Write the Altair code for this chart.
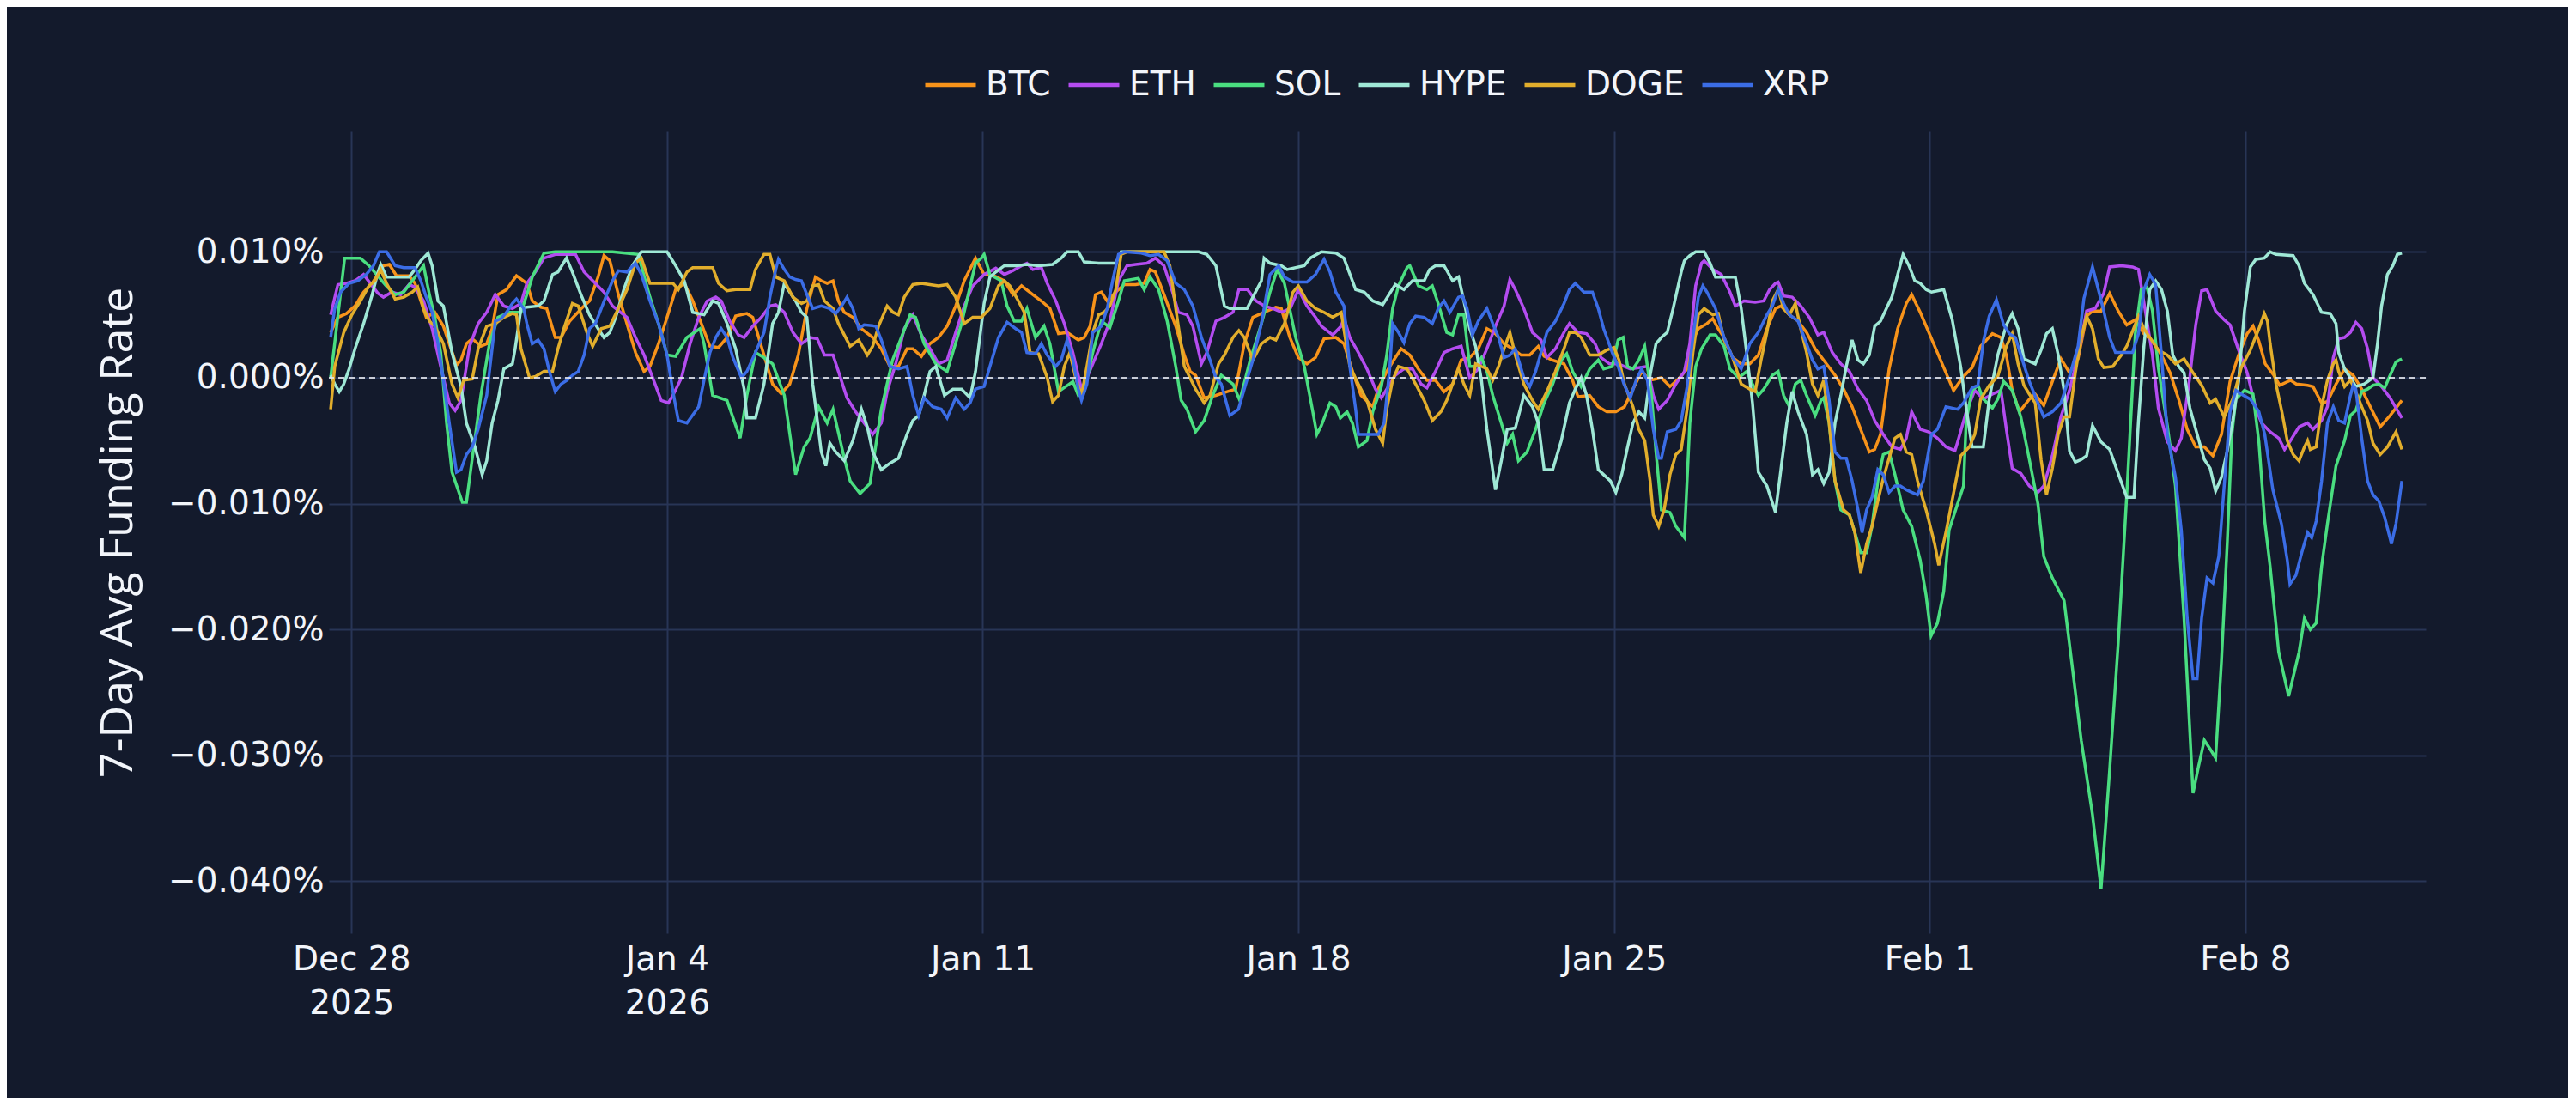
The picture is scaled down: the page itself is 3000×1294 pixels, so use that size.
import altair as alt
import pandas as pd

# ---- data (day offset from 2025-12-28 00:00, value in units of 0.001 %) ----
COINS = ["BTC", "ETH", "SOL", "HYPE", "DOGE", "XRP"]
COLORS = ["#F7931A", "#B44CF0", "#4ADE80", "#9FE8D6", "#E2AE2C", "#3B6DE6"]

BTC_D = [-0.46,-0.3,-0.11,0.08,0.27,0.46,0.71,0.84,1.0,1.28,1.41,1.66,1.85,2.04,2.17,2.33,2.43,2.55,2.68,2.87,3.0,3.12,3.25,3.44,3.66,3.89,4.01,4.2,4.33,4.52,4.65,4.84,5.1,5.28,5.47,5.6,5.73,5.92,6.11,6.3,6.49,6.62,6.81,7.0,7.19,7.38,7.57,7.76,7.95,8.14,8.33,8.52,8.77,8.9,9.09,9.34,9.53,9.72,9.91,10.1,10.29,10.42,10.55,10.68,10.8,10.93,11.12,11.31,11.56,11.75,11.94,12.13,12.32,12.45,12.64,12.83,13.02,13.21,13.4,13.59,13.84,14.03,14.25,14.48,14.67,14.86,15.11,15.3,15.49,15.68,15.87,16.12,16.25,16.38,16.5,16.63,16.76,16.95,17.14,17.39,17.58,17.71,17.83,18.02,18.28,18.47,18.6,18.72,18.91,19.17,19.42,19.61,19.8,19.99,20.24,20.5,20.62,20.81,21.0,21.19,21.38,21.57,21.83,22.01,22.2,22.39,22.65,22.77,22.96,23.15,23.28,23.47,23.66,23.85,24.04,24.23,24.42,24.61,24.8,24.99,25.18,25.37,25.56,25.75,25.94,26.13,26.32,26.45,26.63,26.89,27.08,27.2,27.46,27.65,27.84,28.04,28.23,28.42,28.61,28.8,29.05,29.24,29.43,29.62,29.75,29.87,30.06,30.19,30.31,30.44,30.63,30.82,31.01,31.2,31.39,31.58,31.7,31.89,32.08,32.27,32.46,32.71,32.9,33.09,33.28,33.47,33.66,33.78,33.91,34.1,34.29,34.48,34.6,34.79,34.98,35.17,35.36,35.53,35.75,35.94,36.13,36.39,36.58,36.7,36.83,36.99,37.21,37.34,37.53,37.72,37.91,38.1,38.29,38.48,38.61,38.8,38.99,39.18,39.37,39.56,39.75,39.94,40.14,40.33,40.52,40.71,40.9,41.09,41.28,41.47,41.66,41.85,42.04,42.17,42.3,42.44,42.63,42.76,43.0,43.13,43.38,43.5,43.69,43.82,44.01,44.2,44.39,44.58,44.77,44.99,45.21,45.47]
BTC_V = [3.6,4.8,5.1,5.7,6.8,7.5,8.9,9.0,8.1,8.1,7.5,4.8,5.2,4.1,2.7,1.0,1.4,2.7,3.1,2.5,2.7,3.9,6.6,7.0,8.1,7.5,6.1,5.6,5.5,3.2,3.2,4.5,5.5,6.1,8.0,9.7,9.3,6.6,4.3,2.0,0.5,0.9,2.7,4.8,7.0,7.5,6.1,4.3,2.5,2.4,3.2,4.9,5.1,4.8,2.5,-0.5,-1.25,-0.5,1.8,5.5,8.0,7.7,7.5,7.7,6.1,5.2,4.8,3.9,3.2,2.3,0.9,0.9,2.3,2.3,1.7,2.7,3.2,4.1,5.7,7.7,9.5,8.2,8.1,7.7,6.6,7.3,6.6,6.1,5.5,3.5,3.6,3.0,3.2,4.1,6.6,6.8,6.1,6.8,7.4,7.4,7.5,8.6,8.4,6.6,4.1,1.8,0.5,0.2,-1.6,-1.4,-1.1,-0.9,2.7,4.8,5.2,5.6,5.5,3.2,1.6,1.1,1.6,3.1,3.2,2.7,0.5,-1.4,-2.3,-0.9,0.5,1.6,2.3,1.8,0.7,-0.2,-0.2,-1.1,-0.5,1.4,1.6,2.3,3.9,3.5,2.7,2.3,1.8,1.8,2.5,1.7,1.4,1.1,-0.2,-1.5,-1.4,-2.3,-2.7,-2.7,-2.3,-0.9,0.5,-0.2,0.0,-0.7,-0.1,0.7,3.0,3.9,4.3,4.7,3.9,3.2,1.6,1.1,1.1,1.8,3.9,5.5,5.7,5.0,4.5,3.6,2.3,1.1,0.2,-0.9,-2.3,-4.1,-5.9,-5.7,-4.5,0.7,3.9,5.9,6.6,5.2,3.6,2.0,0.4,-1.0,0.1,0.8,2.5,3.5,3.2,1.8,-1.0,-2.7,-1.7,-1.3,-2.2,-0.3,1.5,0.4,1.5,4.9,5.3,5.3,6.7,5.3,4.2,4.6,3.5,2.9,1.8,0.4,-1.7,-4.1,-5.5,-5.5,-6.2,-4.5,-0.3,1.8,3.5,4.1,2.9,1.1,0.2,-0.6,-0.2,-0.5,-0.6,-0.7,-2.0,-1.9,-0.5,0.7,0.2,-0.9,-2.3,-3.9,-3.0,-1.8]

ETH_D = [-0.46,-0.3,-0.11,0.08,0.27,0.46,0.59,0.71,0.9,1.09,1.28,1.41,1.6,1.79,1.98,2.17,2.3,2.43,2.62,2.81,3.0,3.19,3.38,3.57,3.76,3.89,4.08,4.27,4.52,4.97,5.16,5.41,5.6,5.79,6.11,6.3,6.49,6.68,6.87,7.03,7.13,7.32,7.51,7.7,7.89,8.08,8.2,8.39,8.58,8.71,8.9,9.09,9.28,9.41,9.6,9.79,9.98,10.17,10.33,10.49,10.68,10.8,10.99,11.18,11.37,11.56,11.75,11.88,12.07,12.26,12.45,12.64,12.83,13.02,13.21,13.4,13.59,13.78,14.03,14.29,14.48,14.67,14.86,14.98,15.11,15.3,15.43,15.62,15.81,16.0,16.19,16.31,16.44,16.63,16.82,17.01,17.2,17.39,17.64,17.83,18.02,18.21,18.34,18.53,18.66,18.85,18.97,19.17,19.36,19.55,19.68,19.87,20.06,20.25,20.44,20.63,20.82,21.0,21.19,21.38,21.51,21.76,21.95,22.01,22.14,22.33,22.52,22.71,22.84,22.96,23.15,23.34,23.53,23.72,23.85,24.04,24.23,24.42,24.61,24.8,24.99,25.18,25.37,25.56,25.69,25.81,26.0,26.19,26.38,26.51,26.7,26.89,27.01,27.2,27.39,27.58,27.71,27.9,28.09,28.36,28.55,28.74,28.87,28.99,29.18,29.37,29.56,29.68,29.81,29.94,30.0,30.19,30.38,30.57,30.69,30.88,31.13,31.32,31.45,31.58,31.64,31.76,31.95,32.14,32.33,32.52,32.65,32.84,33.03,33.22,33.41,33.6,33.78,33.97,34.16,34.35,34.48,34.6,34.79,34.98,35.17,35.36,35.56,35.62,35.81,36.0,36.19,36.39,36.58,36.7,36.83,37.02,37.21,37.4,37.53,37.72,37.91,38.1,38.29,38.48,38.67,38.86,38.99,39.25,39.5,39.63,39.75,39.94,40.07,40.27,40.45,40.58,40.77,40.9,41.03,41.15,41.34,41.53,41.66,41.85,42.04,42.23,42.36,42.55,42.74,42.87,43.0,43.19,43.38,43.5,43.69,43.82,43.95,44.07,44.2,44.33,44.45,44.58,44.71,44.83,45.02,45.21,45.47]
ETH_V = [5.0,7.4,7.5,7.7,8.2,7.3,6.7,6.4,6.8,6.6,7.4,7.2,6.1,3.9,0.9,-2.0,-2.6,-1.8,2.5,4.3,5.2,6.6,5.7,5.5,5.9,7.5,8.4,9.5,9.8,9.8,8.4,7.5,6.8,5.7,4.8,3.2,1.8,0.0,-1.8,-2.0,-1.4,0.0,2.7,4.8,6.1,6.4,6.1,4.5,3.4,3.2,4.1,4.8,5.7,5.8,5.2,3.6,2.7,3.2,3.1,1.8,1.8,0.5,-1.6,-2.7,-3.6,-4.5,-3.6,-1.1,1.1,3.9,5.0,3.4,2.3,1.1,1.4,3.6,5.7,7.3,8.2,8.7,8.2,8.5,8.9,9.1,8.6,8.75,7.5,6.1,4.3,2.0,-0.9,0.0,1.1,2.7,4.5,7.7,8.9,9.0,9.1,9.5,8.9,6.8,5.2,5.0,4.1,1.1,2.0,4.5,4.8,5.2,7.0,7.0,6.1,5.7,5.5,5.2,5.5,7.0,5.7,4.8,4.1,3.4,4.1,4.8,3.2,2.0,0.7,-0.9,-1.6,-0.9,0.2,0.7,0.7,-0.5,-0.8,0.5,2.0,2.3,2.5,0.0,0.7,2.3,4.1,5.7,7.8,7.0,5.5,3.6,3.0,1.6,2.3,3.6,4.3,3.6,3.5,2.7,1.6,1.1,1.1,0.7,0.8,0.9,-1.4,-2.5,-1.8,-0.5,0.5,2.7,7.3,9.1,9.3,8.6,8.2,6.8,5.7,6.1,6.0,6.1,7.0,7.5,7.6,6.5,6.4,5.7,4.8,3.4,3.6,2.0,1.1,0.5,-0.9,-1.8,-3.4,-4.5,-5.5,-5.7,-4.8,-2.7,-4.1,-4.3,-4.8,-5.5,-5.8,-5.1,-2.7,-1.0,-1.7,-1.3,-1.0,-4.1,-7.2,-7.6,-8.6,-9.1,-8.6,-6.2,-3.1,-1.0,1.8,5.3,5.5,6.7,8.8,8.9,8.8,8.6,6.0,1.8,-2.4,-5.1,-5.8,-4.8,0.1,4.2,6.9,7.0,5.3,4.6,4.2,2.2,0.4,-2.4,-3.6,-4.3,-4.8,-5.7,-5.0,-3.9,-3.6,-4.1,-3.4,-2.3,1.6,3.1,3.2,3.6,4.4,3.9,2.3,0.0,-0.7,-1.6,-3.2]

SOL_D = [-0.46,-0.15,0.2,0.39,0.77,0.97,1.16,1.35,1.6,1.73,1.85,1.98,2.11,2.23,2.46,2.55,2.68,2.87,3.06,3.25,3.5,3.76,3.89,4.01,4.27,4.52,5.79,6.36,6.62,6.81,7.0,7.19,7.44,7.73,7.82,8.01,8.33,8.62,8.77,8.96,9.15,9.34,9.6,9.85,10.04,10.17,10.36,10.55,10.68,10.93,11.06,11.28,11.5,11.75,12.0,12.39,12.51,12.7,12.96,13.21,13.53,13.84,13.97,14.03,14.16,14.41,14.54,14.7,14.86,14.98,15.17,15.36,15.49,15.68,16.0,16.12,16.25,16.44,16.63,16.82,17.01,17.14,17.45,17.58,17.71,17.9,18.09,18.28,18.4,18.53,18.72,18.91,19.1,19.29,19.55,19.7,19.93,20.18,20.37,20.53,20.69,20.94,21.13,21.32,21.41,21.51,21.7,21.83,21.93,22.08,22.2,22.33,22.52,22.65,22.84,22.96,23.09,23.22,23.41,23.47,23.66,23.85,23.97,24.1,24.29,24.42,24.55,24.67,24.8,24.93,25.06,25.18,25.31,25.5,25.63,25.75,25.88,26.07,26.26,26.45,26.64,26.83,26.95,27.08,27.27,27.46,27.65,27.77,27.96,28.09,28.2,28.3,28.42,28.55,28.68,28.74,28.83,28.93,29.05,29.24,29.37,29.56,29.68,29.81,29.94,30.13,30.25,30.44,30.57,30.76,30.94,31.07,31.2,31.32,31.51,31.64,31.76,31.89,32.02,32.14,32.27,32.46,32.59,32.65,32.77,32.9,33.03,33.22,33.34,33.47,33.6,33.72,33.85,33.97,34.1,34.23,34.41,34.6,34.79,34.92,35.03,35.17,35.31,35.43,35.62,35.75,35.81,35.94,36.07,36.19,36.39,36.51,36.64,36.83,37.02,37.21,37.4,37.53,37.72,37.98,38.17,38.36,38.61,38.8,38.99,39.18,39.37,39.56,39.69,39.82,39.94,40.07,40.27,40.45,40.64,40.84,40.96,41.09,41.22,41.34,41.47,41.6,41.7,41.79,41.98,42.17,42.3,42.43,42.55,42.74,42.96,43.19,43.31,43.44,43.57,43.69,43.82,44.01,44.2,44.33,44.45,44.58,44.71,44.83,44.96,45.09,45.21,45.34,45.47]
SOL_V = [0.0,9.5,9.5,8.9,7.3,6.6,6.8,7.7,8.9,6.6,4.8,2.0,-3.6,-7.5,-9.9,-9.9,-6.4,-1.4,2.7,4.8,5.2,5.2,6.6,8.0,9.9,10.0,10.0,9.8,6.4,4.3,1.8,1.7,3.2,3.9,2.7,-1.4,-1.8,-4.8,-1.4,2.0,1.6,1.1,-1.4,-7.7,-5.5,-4.8,-2.3,-3.6,-2.5,-6.4,-8.2,-9.2,-8.4,-2.5,1.4,5.0,4.8,2.7,1.1,0.5,4.3,9.1,9.5,9.8,8.2,7.7,5.7,4.5,4.5,5.5,3.2,4.1,2.7,-1.1,-0.3,-1.4,-1.1,2.0,4.5,4.0,6.1,7.7,7.9,7.0,8.0,7.0,4.5,0.9,-1.8,-2.5,-4.3,-3.4,-1.4,0.2,-0.5,-1.8,1.4,4.3,6.8,8.6,7.5,3.2,0.9,-2.7,-4.5,-3.8,-2.0,-2.3,-3.2,-2.7,-3.6,-5.5,-5.0,-2.7,-0.7,1.8,5.5,7.3,8.75,8.9,7.3,7.0,7.3,5.9,3.6,3.4,5.0,5.0,0.9,0.9,1.6,0.5,-1.4,-3.6,-5.2,-4.5,-6.6,-5.9,-4.1,-2.0,-0.5,1.4,1.9,0.5,-0.7,0.7,1.4,0.7,0.9,3.0,3.2,0.9,0.7,1.4,2.5,0.9,-1.4,-5.9,-10.5,-10.7,-11.8,-12.7,-3.6,0.9,2.3,3.4,3.4,2.5,0.7,0.0,0.5,-0.5,-1.4,-0.9,0.2,0.5,-1.4,-2.3,-0.5,-0.2,-1.4,-3.0,-1.8,-1.6,-3.6,-8.2,-10.5,-10.9,-12.3,-13.9,-13.9,-11.8,-8.2,-6.1,-5.9,-7.7,-10.5,-11.8,-14.5,-17.3,-20.5,-19.5,-17.0,-12.1,-10.0,-8.6,-3.4,-1.0,-0.6,-1.7,-2.4,-1.7,-0.3,-1.0,-3.1,-6.5,-10.0,-14.2,-15.9,-17.7,-23.2,-28.8,-34.7,-40.6,-31.2,-21.1,-9.3,3.5,7.0,7.2,5.3,0.8,-3.8,-8.6,-19.1,-33.0,-30.9,-28.8,-29.5,-30.2,-22.5,-13.0,-4.5,-1.7,-1.0,-1.3,-5.1,-11.4,-15.0,-21.8,-25.3,-21.8,-19.1,-20.0,-19.5,-15.0,-11.6,-7.0,-5.0,-3.0,-2.6,-1.1,-0.9,-0.6,-0.5,-0.8,0.2,1.25,1.5]

HYPE_D = [-0.46,-0.37,-0.27,-0.17,-0.05,0.08,0.27,0.46,0.59,0.65,0.78,1.03,1.28,1.41,1.54,1.7,1.79,1.92,2.04,2.23,2.43,2.55,2.74,2.9,3.0,3.12,3.25,3.38,3.57,3.63,3.76,3.89,4.14,4.27,4.46,4.58,4.77,4.9,5.09,5.28,5.47,5.6,5.73,5.86,6.04,6.23,6.43,7.0,7.19,7.38,7.57,7.82,8.01,8.14,8.33,8.52,8.71,8.77,8.96,9.15,9.34,9.47,9.6,9.72,9.85,9.98,10.1,10.23,10.42,10.52,10.61,10.74,10.93,11.12,11.31,11.44,11.56,11.75,11.94,12.13,12.32,12.45,12.58,12.7,12.83,12.96,13.15,13.34,13.53,13.72,13.84,14.03,14.16,14.29,14.48,14.73,14.98,15.24,15.55,15.74,15.87,16.12,16.25,16.57,16.95,17.07,18.79,18.97,19.17,19.36,19.48,19.86,19.99,20.18,20.24,20.37,20.62,20.75,21.13,21.26,21.51,21.83,22.01,22.27,22.46,22.65,22.87,23.15,23.34,23.53,23.79,23.91,24.04,24.23,24.42,24.55,24.67,24.8,24.93,25.06,25.18,25.37,25.5,25.63,25.81,26.0,26.19,26.32,26.45,26.64,26.83,27.01,27.14,27.27,27.39,27.52,27.65,27.77,27.92,28.04,28.17,28.3,28.42,28.55,28.68,28.8,28.93,29.05,29.18,29.31,29.49,29.56,29.68,29.81,30.0,30.13,30.25,30.69,30.82,30.94,31.07,31.2,31.39,31.58,31.7,31.83,31.95,32.08,32.27,32.4,32.52,32.65,32.77,32.9,33.03,33.15,33.28,33.41,33.53,33.66,33.78,33.91,34.04,34.16,34.29,34.41,34.54,34.67,34.79,34.92,35.04,35.31,35.5,35.69,35.81,35.94,36.19,36.32,36.51,36.7,36.83,36.96,37.09,37.34,37.47,37.59,37.72,37.85,37.98,38.1,38.23,38.36,38.48,38.61,38.8,38.99,39.18,39.37,39.53,39.63,39.75,39.88,40.01,40.14,40.27,40.39,40.52,40.64,40.77,40.9,41.09,41.22,41.34,41.47,41.6,41.72,41.85,41.98,42.11,42.23,42.42,42.55,42.68,43.06,43.19,43.31,43.5,43.69,43.88,44.01,44.07,44.2,44.33,44.45,44.64,44.83,44.93,45.02,45.15,45.27,45.37,45.47]
HYPE_V = [0.2,-0.5,-1.1,-0.5,0.7,2.3,4.3,6.6,8.4,9.0,8.0,8.0,8.0,8.6,9.3,9.9,8.9,6.1,5.7,2.0,-0.7,-3.6,-5.5,-7.7,-6.6,-3.6,-1.8,0.7,1.1,2.3,5.5,5.6,5.7,6.1,8.2,8.4,9.5,8.4,6.6,5.0,3.9,3.2,3.6,4.8,7.0,8.9,10.0,10.0,8.9,7.7,5.2,5.0,6.1,5.9,4.3,2.3,-0.9,-3.2,-3.2,-0.5,4.3,5.2,7.5,6.8,6.1,5.2,4.8,-0.5,-5.9,-7.0,-5.2,-5.9,-6.6,-5.0,-2.5,-3.9,-5.9,-7.3,-6.8,-6.4,-4.5,-3.4,-3.0,-1.4,0.5,0.9,-1.4,-0.9,-0.9,-1.6,0.5,5.9,8.0,8.4,8.9,8.9,9.0,8.9,9.0,9.5,10.0,10.0,9.2,9.1,9.1,10.0,10.0,9.8,8.9,5.7,5.5,5.5,6.4,7.7,9.5,9.1,8.9,8.6,8.9,9.5,10.0,9.9,9.5,7.0,6.8,6.1,5.8,7.4,7.0,7.7,7.7,8.6,8.9,8.9,7.7,8.0,6.1,3.9,2.5,-0.2,-4.1,-8.9,-6.6,-4.1,-4.0,-1.4,-2.3,-3.6,-7.3,-7.3,-5.0,-2.0,-0.9,0.0,-1.4,-4.1,-7.3,-7.7,-8.2,-9.1,-7.7,-5.5,-3.6,-2.7,-3.2,0.2,2.7,3.2,3.6,5.5,8.4,9.3,9.7,10.0,10.0,9.1,8.0,8.0,5.5,2.0,-2.0,-7.5,-8.6,-10.7,-7.3,-3.6,-1.1,-2.7,-4.5,-7.7,-7.3,-8.4,-7.5,-3.6,-1.4,0.9,3.0,1.4,1.1,1.8,4.1,4.5,5.5,6.4,8.2,9.8,8.9,7.7,7.5,7.0,6.8,7.0,4.6,0.8,-2.4,-5.5,-5.5,-1.7,1.8,4.2,5.1,3.9,1.5,1.1,2.2,3.5,3.9,1.8,-1.0,-5.8,-6.7,-6.5,-6.2,-3.8,-5.1,-5.7,-7.6,-9.5,-9.5,-3.4,2.5,7.0,7.7,7.0,5.3,1.8,0.9,0.4,-2.4,-4.1,-6.5,-7.2,-9.0,-7.9,-5.8,-3.4,-0.3,5.3,8.8,9.4,9.5,10.0,9.8,9.7,8.9,7.5,6.6,5.2,5.1,4.3,2.0,0.7,0.0,-0.7,-0.5,0.0,2.7,5.7,8.2,8.9,9.8,9.9]

DOGE_D = [-0.46,-0.37,-0.17,0.01,0.2,0.39,0.52,0.65,0.78,0.97,1.16,1.35,1.47,1.6,1.73,1.85,2.04,2.23,2.36,2.49,2.68,2.81,3.0,3.19,3.38,3.57,3.66,3.76,3.95,4.08,4.27,4.46,4.58,4.71,4.9,5.03,5.22,5.35,5.54,5.73,5.92,6.11,6.3,6.43,6.62,6.81,7.0,7.13,7.25,7.44,7.57,8.01,8.14,8.33,8.52,8.84,8.96,9.15,9.28,9.41,9.6,9.79,9.98,10.1,10.23,10.36,10.49,10.68,10.8,10.93,11.06,11.25,11.44,11.56,11.69,11.88,12.01,12.13,12.26,12.45,12.64,12.83,13.02,13.21,13.4,13.59,13.78,13.97,14.16,14.35,14.48,14.6,14.79,14.92,15.05,15.24,15.43,15.55,15.68,15.81,15.93,16.06,16.19,16.31,16.44,16.57,16.69,16.82,16.95,17.07,17.2,18.02,18.15,18.28,18.47,18.72,18.91,19.04,19.23,19.36,19.55,19.68,19.8,19.99,20.18,20.37,20.5,20.69,20.88,21.0,21.19,21.38,21.57,21.76,21.95,22.14,22.33,22.52,22.71,22.87,22.96,23.09,23.22,23.41,23.6,23.79,23.97,24.16,24.29,24.42,24.55,24.67,24.8,24.93,25.06,25.18,25.31,25.44,25.56,25.69,25.81,26.0,26.19,26.32,26.51,26.7,26.89,27.01,27.14,27.27,27.46,27.65,27.84,28.0,28.11,28.23,28.42,28.55,28.68,28.8,28.87,28.99,29.11,29.24,29.37,29.49,29.62,29.75,29.87,30.0,30.19,30.31,30.44,30.63,30.82,31.01,31.13,31.26,31.39,31.51,31.64,31.76,31.89,32.02,32.14,32.27,32.4,32.52,32.65,32.77,32.9,33.09,33.22,33.34,33.47,33.6,33.72,33.85,33.97,34.1,34.23,34.35,34.48,34.6,34.73,34.92,35.11,35.2,35.37,35.56,35.69,35.88,36.0,36.13,36.32,36.51,36.7,36.83,36.96,37.09,37.21,37.34,37.47,37.59,37.72,37.85,37.98,38.1,38.23,38.36,38.48,38.61,38.74,38.86,39.06,39.25,39.37,39.5,39.63,39.75,39.88,40.07,40.27,40.45,40.64,40.84,41.03,41.22,41.34,41.53,41.72,41.91,42.11,42.3,42.42,42.49,42.55,42.68,42.81,42.93,43.06,43.19,43.31,43.38,43.44,43.57,43.69,43.82,43.95,44.01,44.07,44.2,44.33,44.45,44.58,44.71,44.83,44.99,45.15,45.34,45.47]
DOGE_V = [-2.5,0.9,3.6,5.0,6.1,7.3,7.7,8.6,7.5,6.25,6.4,6.8,7.2,5.5,4.5,4.1,2.7,-0.5,-1.6,-0.2,-0.1,2.3,4.1,4.3,4.8,5.1,5.0,2.3,0.0,0.1,0.5,0.5,2.3,3.9,5.9,5.7,3.6,2.5,3.9,4.1,5.5,7.0,9.1,9.5,7.5,7.5,7.5,7.5,7.0,8.4,8.75,8.75,7.5,6.9,7.0,7.0,8.6,9.8,9.8,8.0,7.7,6.4,5.9,6.1,7.3,7.4,6.1,5.5,4.3,3.4,2.5,3.0,1.8,2.5,4.1,5.7,5.2,5.0,6.4,7.4,7.5,7.4,7.3,7.4,6.4,4.3,4.8,4.8,5.5,7.3,7.7,7.3,6.1,5.2,2.0,1.9,0.0,-1.9,-1.4,0.9,2.0,0.0,-1.4,0.9,3.6,5.0,5.2,5.7,7.0,9.8,10.0,10.0,8.9,5.5,0.9,-0.9,-2.0,-1.4,1.1,1.8,3.2,3.75,3.2,1.4,2.7,3.2,3.0,4.3,6.8,7.3,6.1,5.5,5.2,4.8,5.2,0.9,-0.5,-1.8,-4.1,-5.2,-2.5,-0.2,0.9,0.7,-0.5,-1.8,-3.4,-2.7,-1.8,-0.5,0.7,-0.5,-1.4,1.1,0.9,0.7,-0.2,0.9,2.3,3.6,1.8,-0.5,-1.8,-2.5,-1.1,0.5,2.3,3.6,3.6,3.2,1.8,1.8,2.2,2.4,1.4,-0.5,-2.3,-4.1,-5.0,-8.2,-10.9,-11.8,-10.5,-7.7,-6.1,-5.7,-2.5,2.0,5.0,5.5,5.0,5.1,3.0,1.6,-0.5,-0.9,-1.1,1.4,3.6,6.1,7.0,5.5,5.0,5.9,3.9,2.0,-0.5,-1.4,-0.2,-3.6,-8.2,-10.5,-10.9,-12.3,-15.5,-13.2,-11.8,-9.8,-8.0,-6.4,-4.8,-4.5,-5.9,-6.1,-8.2,-10.5,-13.2,-14.9,-12.1,-8.6,-6.2,-5.5,-4.5,-1.7,-0.6,0.1,2.5,3.5,1.1,-0.6,-1.3,-2.0,-6.5,-9.3,-7.2,-4.5,-3.1,-3.1,0.4,3.2,4.9,3.9,1.5,0.8,0.9,1.8,2.5,3.7,4.9,3.9,3.2,2.2,1.8,1.1,1.5,0.4,-0.6,-2.0,-1.7,-3.1,-1.7,0.8,2.2,3.9,5.1,4.5,2.7,-0.5,-2.7,-5.0,-6.1,-6.6,-5.5,-5.0,-5.7,-5.5,-2.3,-0.2,1.1,1.4,0.5,-0.7,-0.2,-1.1,-2.3,-3.4,-5.2,-6.1,-5.5,-4.3,-5.7]

XRP_D = [-0.46,-0.37,-0.24,-0.05,0.14,0.33,0.49,0.62,0.78,0.97,1.16,1.41,1.54,1.66,1.79,1.92,2.04,2.17,2.33,2.43,2.55,2.68,2.81,3.0,3.19,3.32,3.44,3.57,3.66,3.82,3.89,4.01,4.14,4.27,4.39,4.52,4.65,4.78,4.9,5.03,5.16,5.28,5.41,5.54,5.66,5.79,5.92,6.11,6.3,6.43,6.62,6.81,7.0,7.13,7.25,7.44,7.7,7.82,7.95,8.08,8.2,8.33,8.46,8.65,8.77,8.96,9.15,9.28,9.41,9.47,9.6,9.72,9.85,9.98,10.1,10.23,10.42,10.61,10.74,10.87,10.99,11.12,11.25,11.37,11.63,11.75,11.94,12.13,12.32,12.45,12.58,12.7,12.89,13.08,13.21,13.4,13.59,13.72,13.84,14.03,14.16,14.35,14.54,14.73,14.86,14.98,15.17,15.3,15.43,15.62,15.74,15.87,16.0,16.12,16.19,16.31,16.44,16.63,16.76,16.88,17.01,17.14,17.52,17.71,17.9,18.09,18.28,18.47,18.66,18.85,19.04,19.17,19.29,19.48,19.67,19.8,19.99,20.18,20.37,20.56,20.69,20.88,21.19,21.38,21.57,21.7,21.83,22.01,22.14,22.27,22.33,22.77,22.9,23.03,23.09,23.22,23.34,23.47,23.6,23.79,23.97,24.1,24.23,24.36,24.55,24.64,24.74,24.86,24.99,25.18,25.31,25.44,25.56,25.69,25.81,26.0,26.13,26.26,26.38,26.51,26.7,26.89,27.01,27.14,27.33,27.52,27.65,27.77,27.96,28.09,28.22,28.36,28.49,28.61,28.74,28.87,28.99,29.05,29.18,29.37,29.49,29.62,29.75,29.87,29.97,30.06,30.25,30.44,30.63,30.82,31.01,31.2,31.39,31.51,31.64,31.76,31.89,32.08,32.27,32.4,32.52,32.65,32.77,32.9,33.03,33.15,33.28,33.41,33.5,33.6,33.72,33.85,33.97,34.1,34.23,34.35,34.48,34.6,34.73,34.86,35.04,35.17,35.36,35.62,35.75,35.94,36.07,36.19,36.32,36.48,36.64,36.77,36.9,37.02,37.21,37.4,37.53,37.72,37.91,38.1,38.29,38.42,38.61,38.74,38.86,38.99,39.12,39.31,39.5,39.63,39.75,39.88,40.01,40.14,40.27,40.45,40.58,40.71,40.84,40.93,41.03,41.15,41.28,41.41,41.53,41.66,41.79,41.91,42.11,42.3,42.43,42.61,42.8,42.93,42.99,43.12,43.25,43.38,43.47,43.57,43.69,43.82,43.95,44.07,44.2,44.33,44.39,44.45,44.58,44.71,44.83,44.96,45.09,45.24,45.34,45.47]
XRP_V = [3.2,5.5,6.8,7.5,7.7,8.2,8.9,10.0,10.0,8.9,8.75,8.75,7.7,6.4,5.2,2.7,-0.2,-3.6,-7.5,-7.3,-6.1,-5.5,-4.1,-1.4,4.5,4.7,5.2,5.9,6.25,5.5,4.3,2.7,3.0,2.3,0.5,-1.1,-0.5,-0.2,0.2,0.5,1.8,3.9,4.3,5.5,6.6,7.7,8.5,8.4,9.1,8.2,6.1,4.3,1.8,-1.1,-3.4,-3.6,-2.3,-0.2,2.0,3.2,3.9,3.2,1.6,0.0,0.5,2.0,3.6,6.4,8.6,9.4,8.6,8.0,7.8,7.7,6.6,5.5,5.7,5.5,5.1,5.7,6.4,5.5,3.9,4.2,4.1,3.0,0.9,0.7,0.9,-1.4,-3.0,-1.6,-2.3,-2.5,-3.2,-1.6,-2.5,-2.0,-0.9,-0.7,0.9,3.2,4.4,3.9,3.6,2.0,1.9,2.7,1.8,0.9,1.4,3.0,1.4,-0.9,-1.8,-0.5,3.6,4.1,5.5,7.7,9.8,10.0,9.9,9.7,9.8,9.3,7.5,7.0,5.7,3.2,1.4,0.0,-0.5,-3.0,-2.5,-0.9,1.4,4.3,8.2,8.9,8.0,7.6,7.6,8.2,9.4,8.4,6.8,5.7,0.9,-2.5,-4.5,-4.5,-3.6,0.9,4.3,3.6,2.8,4.3,4.9,4.8,4.3,5.5,6.1,5.2,6.4,6.5,5.5,3.4,4.5,5.5,4.3,3.2,1.6,1.8,2.3,0.0,-0.7,0.5,2.0,3.6,4.5,5.9,7.0,7.5,6.8,6.8,5.5,3.9,2.0,0.9,-0.5,-1.6,-0.2,0.7,-0.2,-4.1,-6.4,-6.4,-4.3,-4.1,-3.4,-0.7,3.2,6.4,7.3,6.8,5.5,3.2,1.6,0.7,2.7,3.6,5.0,5.7,7.0,5.9,5.0,4.5,2.7,1.4,0.7,0.9,-1.8,-5.9,-6.4,-6.4,-8.2,-10.5,-12.3,-10.5,-9.5,-7.3,-7.7,-9.1,-8.6,-8.6,-8.9,-9.1,-9.3,-8.2,-4.5,-4.1,-2.3,-2.5,-2.0,-0.8,-0.6,2.9,4.9,6.2,4.2,3.5,3.2,1.8,-0.3,-2.0,-3.1,-2.7,-2.0,0.1,2.5,6.3,8.8,7.0,5.3,3.2,2.0,2.0,2.0,3.5,7.0,8.2,7.4,1.8,-4.5,-7.9,-12.1,-19.1,-23.9,-23.9,-19.1,-15.9,-16.3,-14.2,-8.6,-2.7,-1.0,-1.3,-1.7,-2.7,-4.5,-8.9,-11.6,-14.5,-16.4,-15.7,-13.9,-12.3,-12.7,-11.4,-8.2,-3.6,-2.3,-3.4,-3.6,-1.4,-0.6,-0.9,-4.8,-8.2,-9.3,-9.8,-11.1,-13.2,-11.6,-8.2]

Y_TICKS = [-0.0004, -0.0003, -0.0002, -0.0001, 0.0, 0.0001]

# ---- build long table ----
SERIES = {"BTC": (BTC_D, BTC_V), "ETH": (ETH_D, ETH_V), "SOL": (SOL_D, SOL_V),
          "HYPE": (HYPE_D, HYPE_V), "DOGE": (DOGE_D, DOGE_V), "XRP": (XRP_D, XRP_V)}
base_t = pd.Timestamp("2025-12-28 00:00:00")
rows = []
for coin in COINS:
    ds, vs = SERIES[coin]
    for d, v in zip(ds, vs):
        t = base_t + pd.Timedelta(days=d)
        rows.append({"coin": coin, "t": t.strftime("%Y-%m-%dT%H:%M:%S"), "rate": v * 1e-5})
df = pd.DataFrame(rows)

BG = "#131a2c"
GRID = "#283556"
TXT = "#f2f5fa"
TICK_FONT = "DejaVu Sans"

week_ticks = [alt.DateTime(year=2025, month=12, date=28)] + [
    alt.DateTime(year=2026, month=1, date=d) for d in (4, 11, 18, 25)] + [
    alt.DateTime(year=2026, month=2, date=d) for d in (1, 8)]

X = alt.X(
    "t:T",
    scale=alt.Scale(domain=[alt.DateTime(year=2025, month=12, date=27, hours=12),
                            alt.DateTime(year=2026, month=2, date=12)]),
    axis=alt.Axis(
        values=week_ticks, title=None, grid=True, ticks=False, domain=False,
        labelExpr="(month(datum.value) == 11 || (month(datum.value) == 0 && date(datum.value) <= 7)) ? [timeFormat(datum.value, '%b %-d'), timeFormat(datum.value, '%Y')] : timeFormat(datum.value, '%b %-d')",
        labelFont=TICK_FONT, labelFontSize=39, labelColor=TXT, labelPadding=11,
        labelLineHeight=51, labelOverlap=False, labelFlush=False, labelLimit=400,
        gridColor=GRID, gridWidth=2,
    ),
)
Y = alt.Y(
    "rate:Q",
    scale=alt.Scale(domain=[-0.0004413, 0.0001957], nice=False, zero=False),
    axis=alt.Axis(
        values=Y_TICKS, format=".3%", ticks=False, domain=False,
        labelFont=TICK_FONT, labelFontSize=39, labelColor=TXT, labelPadding=6,
        labelLimit=400,
        gridColor=GRID, gridWidth=2,
        title="7-Day Avg Funding Rate", titleFont="Open Sans", titleFontSize=52,
        titleFontWeight="normal", titleColor=TXT, titleX=-230, titleY=467,
        titleBaseline="alphabetic", titleAngle=270,
    ),
)
COLOR = alt.Color(
    "coin:N",
    scale=alt.Scale(domain=COINS, range=COLORS),
    legend=alt.Legend(
        orient="none", legendX=692, legendY=-86, direction="horizontal", columns=6,
        title=None, symbolType="stroke", symbolSize=3481, symbolStrokeWidth=4.5,
        labelFont=TICK_FONT, labelFontSize=39, labelColor=TXT, labelOffset=9,
        columnPadding=11, padding=0, labelLimit=400,
    ),
)

base = alt.Chart(df)
layers = []
for coin in COINS:
    layers.append(
        base.transform_filter(alt.datum.coin == coin)
        .mark_line(strokeWidth=3.5, interpolate="linear")
        .encode(x=X, y=Y, color=COLOR)
    )

zero = alt.Chart(pd.DataFrame({"rate": [0.0]})).mark_rule(
    color="#e6e9f0", strokeDash=[7, 5], strokeWidth=2, opacity=0.85
).encode(y=Y)

chart = alt.layer(*layers, zero).properties(
    width=2442, height=934,
    autosize=alt.AutoSizeParams(type="none"),
    padding={"left": 375, "top": 145, "right": 166, "bottom": 192},
).configure(background=BG).configure_view(stroke=None)

chart.save("out.html", embed_options={"renderer": "svg", "actions": False})
